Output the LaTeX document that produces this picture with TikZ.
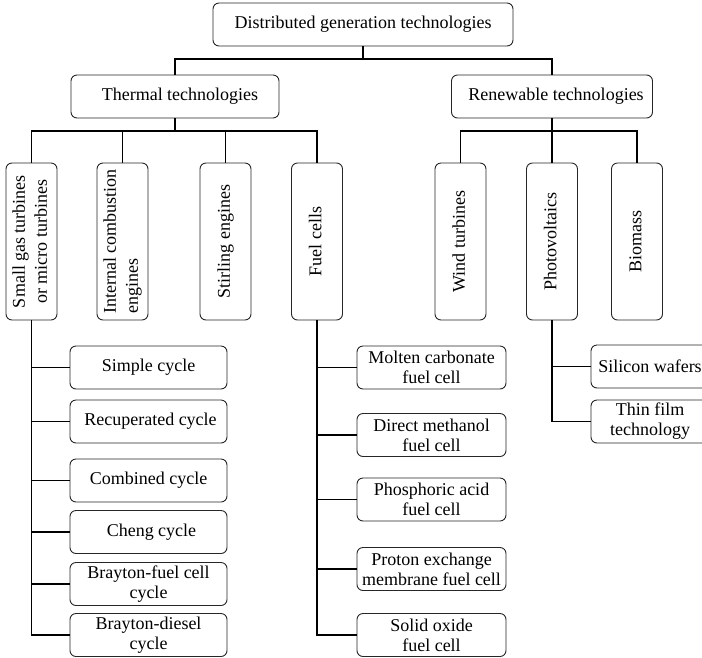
\documentclass[tikz,border=0pt]{standalone}
\usepackage{fontspec}
\setmainfont{Liberation Serif}
\usepackage{graphicx}

% vertical label: rotated tabular, column alignment as optional argument
\newcommand\vlabel[2][c]{\rotatebox{90}{\fontsize{18}{22}\selectfont\begin{tabular}{@{}#1@{}}#2\end{tabular}}}

\begin{document}
\begin{tikzpicture}[x=1pt,y=-1pt,
  every node/.style={font=\fontsize{18}{20}\selectfont},
  box/.style={draw=black!85, line width=0.9pt, rounded corners=6pt, inner sep=0pt, align=center},
  headbox/.style={box, minimum height=43},
  vbox/.style={box, minimum width=51, minimum height=157},
  subbox/.style={box, minimum width=157, minimum height=43},
  fcbox/.style={box, minimum width=149, minimum height=43},
  pvbox/.style={box, minimum width=118, minimum height=43},
  conn/.style={line width=1.4pt, black},
]
\useasboundingbox (0,0) rectangle (702,657);
\clip (0,0) rectangle (702,657);

% root and the two main groups
\node[headbox, minimum width=300] (dg) at (363,24.5) {Distributed generation technologies};
\node[headbox, minimum width=208] (th) at (175,96.5) {\hspace*{10pt}Thermal technologies};
\node[headbox, minimum width=201] (rn) at (552,96.5) {\hspace*{8pt}Renewable technologies};

% technology columns
\node[vbox] (sg) at (31.5,241.5) {\vlabel{Small gas turbines\\or micro turbines}};
\node[vbox] (ic) at (122.5,241.5) {\vlabel[l]{Internal combustion\\engines}};
\node[vbox] (st) at (225.5,241.5) {\vlabel{Stirling engines}};
\node[vbox] (fc) at (317,241.5) {\vlabel{Fuel cells}};
\node[vbox] (wt) at (460.5,241.5) {\vlabel{Wind turbines}};
\node[vbox] (pv) at (552,241.5) {\vlabel{Photovoltaics}};
\node[vbox] (bm) at (637,241.5) {\vlabel{Biomass}};

% gas turbine cycles
\node[subbox] (sc) at (148.5,367.5) {Simple cycle};
\node[subbox] (rc) at (148.5,421.5) {\hspace*{4pt}Recuperated cycle};
\node[subbox] (cc) at (148.5,480.5) {Combined cycle};
\node[subbox] (ch) at (148.5,532) {\hspace*{6pt}Cheng cycle};
\node[subbox] (bf) at (148.5,584) {Brayton-fuel cell\\cycle};
\node[subbox] (bd) at (148.5,635) {Brayton-diesel\\cycle};

% fuel cell types
\node[fcbox] (mc) at (431.5,367.5) {Molten carbonate\\fuel cell};
\node[fcbox] (dm) at (431.5,435) {Direct methanol\\fuel cell};
\node[fcbox] (pa) at (431.5,499.5) {Phosphoric acid\\fuel cell};
\node[fcbox] (pe) at (431.5,569) {Proton exchange\\membrane fuel cell};
\node[fcbox] (so) at (431.5,635) {Solid oxide\\fuel cell};

% photovoltaic technologies
\node[pvbox] (sw) at (650,366.5) {Silicon wafers};
\node[pvbox] (tf) at (650,421.5) {Thin film\\technology};

% bus junctions
\coordinate (dbus) at (363,59);
\coordinate (tbus) at (175,131);
\coordinate (rbus) at (552,131);

% tree connectors
\draw[conn] (dg.south) -- (dbus);
\draw[conn] (th.north) |- (dbus) -| (rn.north);
\draw[conn] (th.south) -- (tbus);
\draw[conn] (sg.north) |- (tbus) -| (fc.north);
\draw[conn] (ic.north) -- (ic.north |- tbus);
\draw[conn] (st.north) -- (st.north |- tbus);
\draw[conn] (rn.south) -- (rbus);
\draw[conn] (wt.north) |- (rbus) -| (bm.north);
\draw[conn] (pv.north) -- (rbus);

\draw[conn] (sg.south) |- (bd.west);
\foreach \n in {sc,rc,cc,ch,bf} \draw[conn] (sg.south |- \n.west) -- (\n.west);

\draw[conn] (fc.south) |- (so.west);
\foreach \n in {mc,dm,pa,pe} \draw[conn] (fc.south |- \n.west) -- (\n.west);

\draw[conn] (pv.south) |- (tf.west);
\draw[conn] (pv.south |- sw.west) -- (sw.west);
\end{tikzpicture}
\end{document}
